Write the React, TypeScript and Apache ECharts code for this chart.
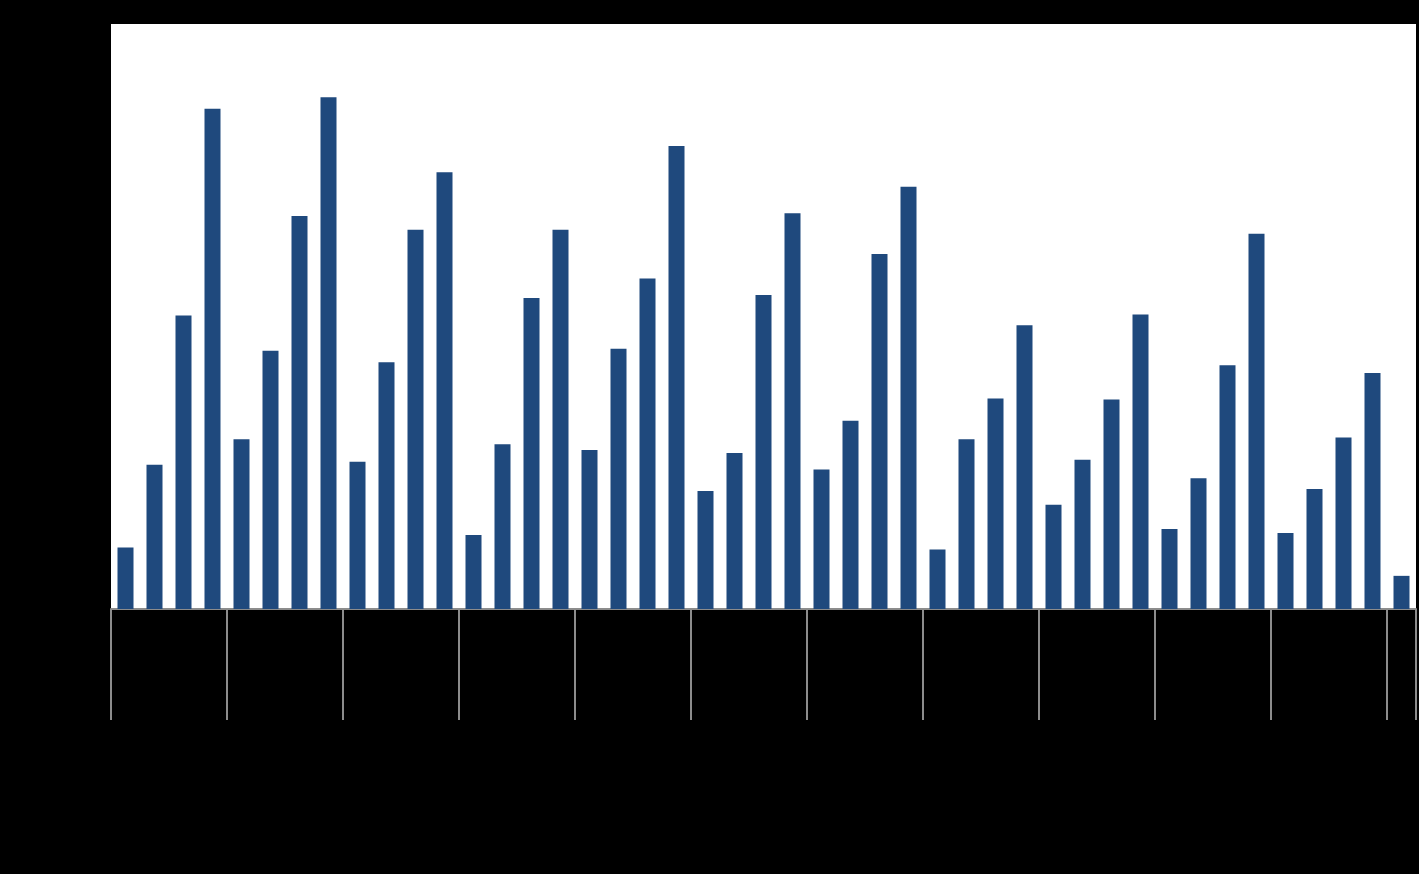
import React, { useEffect, useRef } from "react";
import * as echarts from "echarts";

const years = ["2013", "2014", "2015", "2016", "2017", "2018", "2019", "2020", "2021", "2022", "2023", "2024"];
const quarters = ["Q1", "Q2", "Q3", "Q4"];
const values = [
  63, 148, 301, 513,
  174, 265, 403, 525,
  151, 253, 389, 448,
  76, 169, 319, 389,
  163, 267, 339, 475,
  121, 160, 322, 406,
  143, 193, 364, 433,
  61, 174, 216, 291,
  107, 153, 215, 302,
  82, 134, 250, 385,
  78, 123, 176, 242,
  34,
];
const yTicks = { min: 0, max: 600, interval: 100 };

const categories: string[] = values.map((_, i) => `${quarters[i % 4]} ${years[Math.floor(i / 4)]}`);

export default function App() {
  const ref = useRef<HTMLDivElement>(null);
  useEffect(() => {
    if (!ref.current) return;
    const chart = echarts.init(ref.current, undefined, { renderer: "svg" });
    const gray = "#8c8c8c";
    chart.setOption({
      animation: false,
      backgroundColor: "#000000",
      grid: {
        left: 111,
        right: 3,
        top: 24,
        bottom: 265,
        show: true,
        backgroundColor: "#ffffff",
        borderWidth: 0,
        containLabel: false,
      },
      xAxis: [
        {
          type: "category",
          data: categories,
          position: "bottom",
          axisLine: { show: true, lineStyle: { color: gray, width: 2 } },
          axisTick: { show: false },
          axisLabel: {
            color: "#000000",
            fontFamily: "Liberation Sans",
            fontSize: 12,
            rotate: 90,
            interval: 0,
            formatter: (v: string) => v.split(" ")[0],
          },
        },
        {
          type: "category",
          data: categories,
          position: "bottom",
          offset: 0,
          axisLine: { show: false },
          axisTick: {
            show: true,
            length: 111,
            interval: (i: number) => i % 4 === 0,
            lineStyle: { color: gray, width: 2 },
          },
          axisLabel: {
            color: "#000000",
            fontFamily: "Liberation Sans",
            fontSize: 13,
            margin: 118,
            interval: (i: number) => i % 4 === 1 || i === 44,
            formatter: (v: string) => v.split(" ")[1],
          },
        },
      ],
      yAxis: {
        type: "value",
        min: yTicks.min,
        max: yTicks.max,
        interval: yTicks.interval,
        axisLine: { show: false },
        axisTick: { show: false },
        splitLine: { show: false },
        axisLabel: { color: "#000000", fontFamily: "Liberation Sans", fontSize: 13 },
      },
      series: [
        {
          type: "bar",
          data: values,
          barWidth: 16,
          itemStyle: { color: "#1F497D" },
        },
      ],
    });
    return () => chart.dispose();
  }, []);
  return (
    <div style={{ position: "fixed", left: 0, top: 0, width: 1419, height: 874, background: "#000" }}>
      <div ref={ref} style={{ width: 1419, height: 874 }} />
    </div>
  );
}
